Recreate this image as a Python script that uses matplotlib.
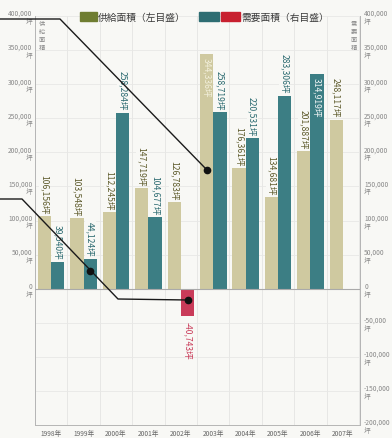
import matplotlib
matplotlib.use('Agg')
import matplotlib.pyplot as plt
from matplotlib.lines import Line2D
from matplotlib.patches import Rectangle
import numpy as np

plt.rcParams['font.family'] = ['Noto Sans CJK JP', 'DejaVu Sans']

# データ（坪）
years = ['1998年', '1999年', '2000年', '2001年', '2002年',
         '2003年', '2004年', '2005年', '2006年', '2007年']
supply = [106156, 103548, 112245, 147719, 126783,
          344336, 176361, 134681, 201887, 248117]
demand = [39540, 44124, 258284, 104677, -40743,
          258719, 220531, 283306, 314919, np.nan]
left_ticks = [0, 50000, 100000, 150000, 200000, 250000, 300000, 350000, 400000]
right_ticks = [-200000, -150000, -100000, -50000, 0, 50000, 100000, 150000,
               200000, 250000, 300000, 350000, 400000]

W, H = 392, 439
def fx(px):
    return px / W
def fy(py):
    return 1 - py / H

c_sup = '#cfc9a0'
c_dem = '#3c7e84'
c_neg = '#c93b59'
t_sup = '#5e5b2c'
t_dem = '#2b6a70'
bg = '#f8f8f5'

fig = plt.figure(figsize=(W / 100, H / 100), dpi=100)
fig.patch.set_facecolor(bg)
ax = fig.add_axes([fx(35), fy(426), fx(360) - fx(35), fy(17) - fy(426)])
ax.set_facecolor(bg)

x = np.arange(len(years))
bw = 0.41
ax.bar(x - bw / 2, supply, bw, color=c_sup, zorder=3)
dem_colors = [c_neg if (v == v and v < 0) else c_dem for v in demand]
ax.bar(x + bw / 2, np.nan_to_num(demand), bw, color=dem_colors, zorder=3)

ax.set_xlim(-0.5, 9.53)
ax.set_ylim(-200000, 400000)

# 棒の数値
gap = 4000
fs = 6.2
for i, v in enumerate(supply):
    s = f'{v:,}坪'
    if i == 5:
        ax.text(x[i] - bw / 2, v - gap, s, rotation=270, ha='center', va='top',
                fontsize=fs, color='#f3f0dc', zorder=5)
    else:
        ax.text(x[i] - bw / 2, v + gap, s, rotation=270, ha='center', va='bottom',
                fontsize=fs, color=t_sup, zorder=5,
                bbox=dict(boxstyle='square,pad=0.1', fc=bg, ec='none'))
for i, v in enumerate(demand):
    if v != v:
        continue
    s = f'{v:,}坪'
    if v < 0:
        ax.text(x[i] + bw / 2, v - gap * 1.5, s, rotation=270, ha='center', va='top',
                fontsize=fs, color=c_neg, zorder=5)
    elif i == 8:
        ax.text(x[i] + bw / 2, v - gap, s, rotation=270, ha='center', va='top',
                fontsize=fs, color='#f2f6f6', zorder=5)
    else:
        ax.text(x[i] + bw / 2, v + gap, s, rotation=270, ha='center', va='bottom',
                fontsize=fs, color=t_dem, zorder=5,
                bbox=dict(boxstyle='square,pad=0.1', fc=bg, ec='none'))

# グリッド
for b in np.arange(-0.5, 9.6, 1):
    ax.axvline(b, color='#e4e4e2', lw=0.6, zorder=1)
for t in right_ticks:
    ax.axhline(t, color='#e8e8e6', lw=0.6, zorder=1)
ax.axhline(0, color='#aaaaaa', lw=0.8, zorder=4)

# 軸
ax.set_yticks(left_ticks)
ax.set_yticklabels([f'{t:,}\n坪' for t in left_ticks], fontsize=4.8,
                   color='#888888', linespacing=1.0)
ax.tick_params(axis='y', length=0, pad=2)
ax.set_xticks(x)
ax.set_xticklabels(years, fontsize=4.8, color='#666666')
ax.tick_params(axis='x', length=0, pad=3)
ax.spines['top'].set_visible(False)
for sp in ['left', 'right', 'bottom']:
    ax.spines[sp].set_color('#b5b5b5')
    ax.spines[sp].set_linewidth(0.7)

ax2 = ax.twinx()
ax2.set_ylim(ax.get_ylim())
ax2.set_yticks(right_ticks)
ax2.set_yticklabels([f'{t:,}\n坪' for t in right_ticks], fontsize=4.8,
                    color='#888888', linespacing=1.0)
ax2.tick_params(axis='y', length=0, pad=3)
for sp in ['top', 'left', 'bottom']:
    ax2.spines[sp].set_visible(False)
ax2.spines['right'].set_color('#b5b5b5')
ax2.spines['right'].set_linewidth(0.7)

# 軸タイトル（縦書き）
fig.text(fx(42), fy(20), '供\n給\n面\n積', fontsize=4.5, color='#888888',
         ha='center', va='top', linespacing=1.0)
fig.text(fx(354), fy(20), '需\n要\n面\n積', fontsize=4.5, color='#888888',
         ha='center', va='top', linespacing=1.0)

# 凡例
fig.patches.append(Rectangle((fx(80), fy(22)), fx(17), fy(13) - fy(22),
                             transform=fig.transFigure, color='#6f7d31', zorder=6))
fig.text(fx(98), fy(17.5), '供給面積（左目盛）', fontsize=7, color='#3a3a3a',
         ha='left', va='center', zorder=6)
fig.patches.append(Rectangle((fx(199), fy(22)), fx(20), fy(13) - fy(22),
                             transform=fig.transFigure, color='#2e6d72', zorder=6))
fig.patches.append(Rectangle((fx(221), fy(22)), fx(19), fy(13) - fy(22),
                             transform=fig.transFigure, color='#c8202f', zorder=6))
fig.text(fx(241), fy(17.5), '需要面積（右目盛）', fontsize=7, color='#3a3a3a',
         ha='left', va='center', zorder=6)

# 引き出し線
for pts in [[(0, 20), (60, 20), (207, 171)],
            [(0, 200), (22, 200), (118, 300), (188, 301)]]:
    xs = [fx(p[0]) for p in pts]
    ys = [fy(p[1]) for p in pts]
    fig.add_artist(Line2D(xs, ys, color='#1a1a1a', lw=1.0, zorder=10,
                          transform=fig.transFigure))
for p in [(207, 171), (90, 272), (188, 301)]:
    fig.add_artist(Line2D([fx(p[0])], [fy(p[1])], marker='o', ms=4.5,
                          color='#111111', zorder=11, transform=fig.transFigure))

fig.savefig('out.png', dpi=100, facecolor=fig.get_facecolor())
